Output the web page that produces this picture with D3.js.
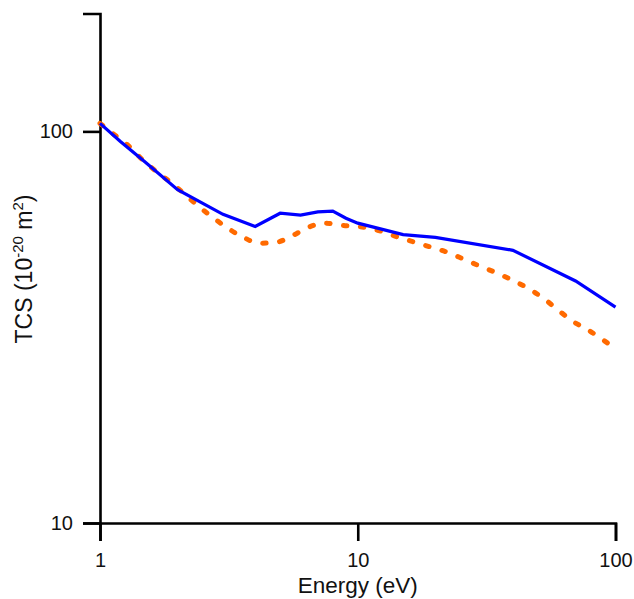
<!DOCTYPE html>
<html>
<head>
<meta charset="utf-8">
<script src="https://cdn.jsdelivr.net/npm/d3@7"></script>
<style>
  html, body { margin: 0; padding: 0; background: #fff; }
  svg { display: block; }
  text { font-family: "Liberation Sans", Arial, sans-serif; fill: #111; }
</style>
</head>
<body>
<svg id="chart" width="634" height="599"></svg>
<script>
// ---- data ----
const blueEnergy = [1, 1.2, 1.5, 2, 3, 4, 5, 6, 7, 8, 9, 10, 15, 20, 40, 70, 100];
const blueTCS    = [104.8, 94.2, 83.4, 71.0, 61.4, 57.2, 61.8, 61.1, 62.3, 62.6, 60.0, 58.3, 54.5, 53.6, 49.7, 41.5, 35.6];

const orangeEnergy = [1, 1.12, 1.31, 1.43, 1.67, 1.88, 2.11, 2.41, 2.74, 3.13, 3.59, 4.14, 4.83, 5.62, 6.44, 7.43, 8.82, 10.4, 12.2, 14.2, 16.5, 19.1, 22.3, 25.9, 30.0, 34.9, 40.7, 46.6, 53.3, 59.8, 68.5, 78.4, 89.8, 100];
const orangeTCS    = [104.8, 98.8, 91.0, 85.8, 78.6, 74.1, 69.5, 64.4, 60.3, 56.6, 53.7, 51.8, 52.1, 54.3, 56.9, 58.3, 57.5, 57.0, 55.7, 53.8, 52.2, 50.7, 49.1, 47.1, 45.2, 43.4, 41.4, 39.5, 37.2, 35.0, 32.7, 31.1, 29.3, 27.9];

const xMajorTicks = [1, 10, 100];
const xMinorTicks = [2, 3, 4, 5, 6, 7, 8, 9, 20, 30, 40, 50, 60, 70, 80, 90];
const yMajorTicks = [10, 100];
const yMinorTicks = [20, 30, 40, 50, 60, 70, 80, 90, 200];

const xTitle = "Energy (eV)";

// ---- layout ----
const svg = d3.select("#chart");
const mLeft = 100, mRight = 615.5, mTop = 13.5, mBottom = 523;

const x = d3.scaleLog().domain([1, 100]).range([mLeft, mRight]);
const y = d3.scaleLog().domain([10, 200]).range([mBottom, mTop]);

const axisColor = "#000";
const axisW = 2.6;

// x axis
const gx = svg.append("g").attr("transform", `translate(0,${mBottom})`);
gx.call(d3.axisBottom(x).tickValues(xMinorTicks).tickSize(10).tickFormat(""));
gx.call(d3.axisBottom(x).tickValues(xMajorTicks).tickSize(18).tickPadding(12)
  .tickFormat(d3.format("d")));

// y axis
const gy = svg.append("g").attr("transform", `translate(${mLeft},0)`);
gy.call(d3.axisLeft(y).tickValues(yMinorTicks).tickSize(9).tickFormat(""));
gy.call(d3.axisLeft(y).tickValues(yMajorTicks).tickSize(17).tickPadding(10)
  .tickFormat(d3.format("d")));

[gx, gy].forEach(g => {
  g.selectAll("path.domain").attr("stroke", axisColor).attr("stroke-width", axisW);
  g.selectAll(".tick line").attr("stroke", axisColor).attr("stroke-width", axisW);
  g.selectAll(".tick text").attr("font-size", 20).attr("fill", "#111")
    .style("font-family", '"Liberation Sans", Arial, sans-serif');
});

// ---- lines ----
const lineGen = d3.line().x(d => x(d[0])).y(d => y(d[1]));

svg.append("path")
  .datum(orangeEnergy.map((e, i) => [e, orangeTCS[i]]))
  .attr("d", lineGen.curve(d3.curveMonotoneX))
  .attr("fill", "none")
  .attr("stroke", "#ff6a00")
  .attr("stroke-width", 5)
  .attr("stroke-linecap", "round")
  .attr("stroke-dasharray", "3.5,13.5");

svg.append("path")
  .datum(blueEnergy.map((e, i) => [e, blueTCS[i]]))
  .attr("d", d3.line().x(d => x(d[0])).y(d => y(d[1])))
  .attr("fill", "none")
  .attr("stroke", "#0000ff")
  .attr("stroke-width", 3.2)
  .attr("stroke-linejoin", "miter");

// ---- titles ----
svg.append("text")
  .attr("x", (mLeft + mRight) / 2)
  .attr("y", 593)
  .attr("text-anchor", "middle")
  .attr("font-size", 22.5)
  .text(xTitle);

const yt = svg.append("text")
  .attr("transform", `translate(31.5,269) rotate(-90)`)
  .attr("text-anchor", "middle")
  .attr("font-size", 23);
yt.append("tspan").text("TCS (10");
yt.append("tspan").attr("font-size", 15).attr("dy", -9).text("-20");
yt.append("tspan").attr("dy", 9).text(" m");
yt.append("tspan").attr("font-size", 15).attr("dy", -9).text("2");
yt.append("tspan").attr("dy", 9).text(")");
</script>
</body>
</html>
